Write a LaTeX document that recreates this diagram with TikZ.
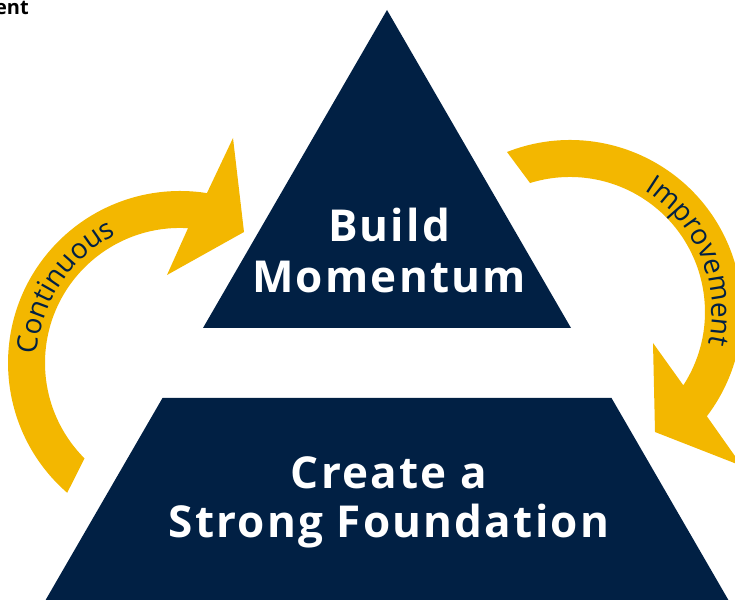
\documentclass[tikz,border=0pt]{standalone}
\usepackage{fontspec}
\setmainfont{Open Sans}
\newfontfamily\osfont{Open Sans}
\newfontfamily\osspaced[LetterSpace=5]{Open Sans}
\usetikzlibrary{decorations.text}
\definecolor{navy}{RGB}{1,32,68}
\definecolor{gold}{RGB}{243,183,0}
\tikzset{
  bigtext/.style={text=white, font=\osspaced\bfseries\fontsize{44}{44}\selectfont, inner sep=0pt, anchor=base},
  lowtext/.style={text=white, font=\osspaced\bfseries\fontsize{44}{44}\selectfont, inner sep=0pt, anchor=base},
  arrowfill/.style={fill=gold},
  blockfill/.style={fill=navy}
}
\begin{document}
\begin{tikzpicture}[x=1pt,y=1pt]
\useasboundingbox (0,0) rectangle (735,599);
% pyramid parts
\fill[blockfill] (387,589) -- (571,271) -- (203,271) -- cycle;
\fill[blockfill] (162.5,201) -- (611.5,201) -- (733.6,-10) -- (40.4,-10) -- cycle;
% left arrow
\fill[arrowfill] (67.2,106.2) arc[start angle=229, end angle=81, radius=172pt]
  -- (233,461) -- (244,367) -- (167,324) -- (188.0,370.8)
  arc[start angle=86.6, end angle=225, radius=135pt] -- cycle;
% right arrow
\fill[arrowfill] (507.0,447.0) arc[start angle=111.5, end angle=-37.3, radius=172pt]
  -- (742,133) -- (655,167) -- (653,256) -- (683.3,213.7)
  arc[start angle=-32.9, end angle=107.2, radius=135pt] -- cycle;
% arrow labels
\path[decorate, decoration={text along path, text color=navy, text align=left,
  text={|\osfont\fontsize{28}{28}\selectfont|Continuous}}]
  (37.25,244.48) arc[start angle=176.6, end angle=95, radius=143pt];
\path[decorate, decoration={text along path, text color=navy, text align=left,
  text={|\osfont\fontsize{28}{28}\selectfont|Improvement}}]
  (644.2,408.1) arc[start angle=58.5, end angle=-35, radius=142pt];
% labels
\node[bigtext] (build) at (389,357) {Build};
\node[bigtext] (momentum) at (389,306) {Momentum};
\node[lowtext] (create) at (389,110.5) {Create a};
\node[lowtext] (strong) at (389,62) {Strong Foundation};
\node[anchor=base east, inner sep=0pt, font=\osfont\bfseries\fontsize{20}{20}\selectfont] (ent) at (29,584) {ent};
\end{tikzpicture}
\end{document}
